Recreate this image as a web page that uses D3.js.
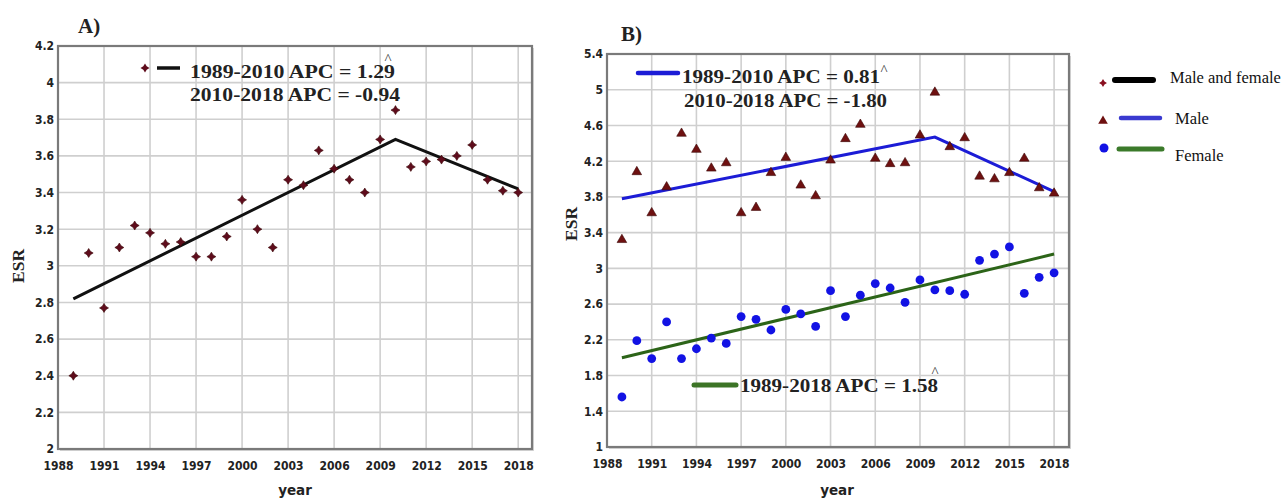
<!DOCTYPE html>
<html>
<head>
<meta charset="utf-8">
<script src="https://cdn.jsdelivr.net/npm/d3@7"></script>
<style>
  body { margin: 0; background: #fff; }
  svg { display: block; }
  .tick text { font-family: "DejaVu Sans Condensed", "DejaVu Sans", sans-serif; font-weight: bold; font-size: 12px; fill: #222; }
  .serif { font-family: "Liberation Serif", "Times New Roman", serif; font-weight: bold; fill: #222; }
</style>
</head>
<body>
<svg id="chart" width="1285" height="498"></svg>
<script>
// data
var years = [1989, 1990, 1991, 1992, 1993, 1994, 1995, 1996, 1997, 1998,
             1999, 2000, 2001, 2002, 2003, 2004, 2005, 2006, 2007, 2008,
             2009, 2010, 2011, 2012, 2013, 2014, 2015, 2016, 2017, 2018];
var bothSexes = [2.40, 3.07, 2.77, 3.10, 3.22, 3.18, 3.12, 3.13, 3.05, 3.05,
                 3.16, 3.36, 3.20, 3.10, 3.47, 3.44, 3.63, 3.53, 3.47, 3.40,
                 3.69, 3.85, 3.54, 3.57, 3.58, 3.60, 3.66, 3.47, 3.41, 3.40];
var male = [3.32, 4.08, 3.62, 3.91, 4.51, 4.33, 4.12, 4.18, 3.62, 3.68,
            4.07, 4.24, 3.93, 3.81, 4.21, 4.45, 4.61, 4.23, 4.17, 4.18,
            4.49, 4.97, 4.36, 4.46, 4.03, 4.00, 4.07, 4.23, 3.90, 3.84];
var female = [1.56, 2.19, 1.99, 2.40, 1.99, 2.10, 2.22, 2.16, 2.46, 2.43,
              2.31, 2.54, 2.49, 2.35, 2.75, 2.46, 2.70, 2.83, 2.78, 2.62,
              2.87, 2.76, 2.75, 2.71, 3.09, 3.16, 3.24, 2.72, 2.90, 2.95];
// joinpoint fits
var joinYears = [1989, 2010, 2018];
var fitBoth = [2.82, 3.69, 3.42];
var fitMale = [3.78, 4.47, 3.86];
var femaleYears = [1989, 2018];
var fitFemale = [2.00, 3.16];
// ticks
var xTicks = [1988, 1991, 1994, 1997, 2000, 2003, 2006, 2009, 2012, 2015, 2018];
var yTicksA = [2, 2.2, 2.4, 2.6, 2.8, 3, 3.2, 3.4, 3.6, 3.8, 4, 4.2];
var yTicksB = [1, 1.4, 1.8, 2.2, 2.6, 3, 3.4, 3.8, 4.2, 4.6, 5, 5.4];
var legendLabels = ['Male and female', 'Male', 'Female'];

(function(){
var svg = d3.select('#chart'),
  maroon = '#5e0c1c',
  star4 = {
    draw: function(ctx, size){
      var r = Math.sqrt(size) * 0.75, q = r * 0.38;
      ctx.moveTo(0, -r); ctx.lineTo(q, -q); ctx.lineTo(r, 0); ctx.lineTo(q, q);
      ctx.lineTo(0, r); ctx.lineTo(-q, q); ctx.lineTo(-r, 0); ctx.lineTo(-q, -q);
      ctx.closePath();
    }
  },
  panel = function(o){
    var g = svg.append('g'),
      x = d3.scaleLinear().domain(o.xDomain).range([o.left, o.right]),
      y = d3.scaleLinear().domain(o.yDomain).range([o.bottom, o.top]);
    // shadow + background
    g.append('rect').attr('x', o.left + 2).attr('y', o.top + 2)
      .attr('width', o.right - o.left).attr('height', o.bottom - o.top)
      .attr('fill', '#d6d6d6');
    g.append('rect').attr('x', o.left).attr('y', o.top)
      .attr('width', o.right - o.left).attr('height', o.bottom - o.top)
      .attr('fill', '#fff');
    // grid
    g.append('g').selectAll('line.v').data(xTicks).join('line')
      .attr('x1', d => x(d)).attr('x2', d => x(d))
      .attr('y1', o.top).attr('y2', o.bottom)
      .attr('stroke', '#cfcfcf').attr('stroke-width', 1.6);
    g.append('g').selectAll('line.h').data(o.yTicks).join('line')
      .attr('x1', o.left).attr('x2', o.right)
      .attr('y1', d => y(d)).attr('y2', d => y(d))
      .attr('stroke', '#cfcfcf').attr('stroke-width', 1.6);
    g.append('rect').attr('x', o.left).attr('y', o.top)
      .attr('width', o.right - o.left).attr('height', o.bottom - o.top)
      .attr('fill', 'none').attr('stroke', '#7a7a7a').attr('stroke-width', 2.2);
    // axes
    var ax = g.append('g').attr('transform', 'translate(0,' + o.bottom + ')')
      .call(d3.axisBottom(x).tickValues(xTicks).tickSize(0).tickPadding(12).tickFormat(d3.format('d')));
    ax.select('.domain').remove();
    var ay = g.append('g').attr('transform', 'translate(' + o.left + ',0)')
      .call(d3.axisLeft(y).tickValues(o.yTicks).tickSize(0).tickPadding(4).tickFormat(d => String(+d.toFixed(1))));
    ay.select('.domain').remove();
    // titles
    g.append('text').attr('class', 'serif').attr('x', o.labelX).attr('y', o.labelY)
      .attr('font-size', 21).text(o.label);
    g.append('text').attr('class', 'serif').attr('font-size', 17.5)
      .attr('transform', 'translate(' + o.esrX + ',' + o.esrY + ') rotate(-90)')
      .attr('text-anchor', 'middle').text('ESR');
    g.append('text').attr('x', o.yearX).attr('y', 495).attr('text-anchor', 'middle')
      .attr('font-family', '"DejaVu Sans", Verdana, sans-serif').attr('font-weight', 'bold')
      .attr('font-size', 13.5).attr('fill', '#222').text('year');
    return {g: g, x: x, y: y};
  },
  fitLine = function(p, xs, ys, color, width){
    var line = d3.line().x(d => p.x(d[0])).y(d => p.y(d[1]));
    p.g.append('path').datum(d3.zip(xs, ys)).attr('d', line)
      .attr('fill', 'none').attr('stroke', color).attr('stroke-width', width)
      .attr('stroke-linejoin', 'miter');
  },
  points = function(p, vals, kind){
    var data = d3.zip(years, vals), sel = p.g.append('g');
    if(kind === 'circle'){
      sel.selectAll('circle').data(data).join('circle')
        .attr('cx', d => p.x(d[0])).attr('cy', d => p.y(d[1])).attr('r', 4.4)
        .attr('fill', '#1212e4');
    } else {
      var sym = d3.symbol().type(kind === 'tri' ? d3.symbolTriangle : star4).size(kind === 'tri' ? 40 : 36);
      sel.selectAll('path').data(data).join('path')
        .attr('transform', d => 'translate(' + p.x(d[0]) + ',' + p.y(d[1]) + ')')
        .attr('d', sym).attr('fill', kind === 'tri' ? '#6e1010' : maroon)
        .attr('stroke', '#3a0606').attr('stroke-width', 0.6);
    }
  },
  legendText = function(g, x, y, txt, len){
    g.append('text').attr('class', 'serif').attr('x', x).attr('y', y)
      .attr('font-size', 18.5).attr('textLength', len).attr('lengthAdjust', 'spacingAndGlyphs')
      .text(txt);
  },
  caret = function(g, x, y){
    g.append('text').attr('x', x).attr('y', y).attr('text-anchor', 'middle')
      .attr('font-family', '"Liberation Serif", serif').attr('font-size', 15)
      .attr('fill', '#333').text('^');
  };

// panel A
var A = panel({xDomain: [1988, 2018.9], yDomain: [2, 4.2], yTicks: yTicksA,
  left: 58, right: 532, top: 46, bottom: 449,
  label: 'A)', labelX: 78, labelY: 33, esrX: 24, esrY: 266, yearX: 295});
fitLine(A, joinYears, fitBoth, '#111', 3);
points(A, bothSexes, 'star');
A.g.append('path').attr('transform', 'translate(145,68)')
  .attr('d', d3.symbol().type(star4).size(36)).attr('fill', maroon);
A.g.append('line').attr('x1', 157).attr('x2', 180).attr('y1', 68).attr('y2', 68)
  .attr('stroke', '#111').attr('stroke-width', 3.5);
legendText(A.g, 190, 78, '1989-2010 APC = 1.29', 205);
legendText(A.g, 190, 101, '2010-2018 APC = -0.94', 210);
caret(A.g, 388, 64);

// panel B
var B = panel({xDomain: [1988, 2019], yDomain: [1, 5.4], yTicks: yTicksB,
  left: 607, right: 1069, top: 54, bottom: 447,
  label: 'B)', labelX: 621, labelY: 41, esrX: 577, esrY: 224, yearX: 837});
fitLine(B, joinYears, fitMale, '#1c1cd6', 3);
fitLine(B, femaleYears, fitFemale, '#2c6418', 3);
points(B, male, 'tri');
points(B, female, 'circle');
B.g.append('line').attr('x1', 638).attr('x2', 678).attr('y1', 73).attr('y2', 73)
  .attr('stroke', '#1c1cd6').attr('stroke-width', 4.5).attr('stroke-linecap', 'round');
legendText(B.g, 682, 83, '1989-2010 APC = 0.81', 198);
legendText(B.g, 684, 107, '2010-2018 APC = -1.80', 203);
caret(B.g, 884, 75);
B.g.append('line').attr('x1', 694).attr('x2', 736).attr('y1', 385).attr('y2', 385)
  .attr('stroke', '#3c7426').attr('stroke-width', 5).attr('stroke-linecap', 'round');
legendText(B.g, 740, 392, '1989-2018 APC = 1.58', 198);
caret(B.g, 935, 377);

// legend on the right
var L = svg.append('g'),
  legendRows = [
    {y: 80, ty: 83, tx: 1170, x1: 1115, x2: 1153, color: '#000', w: 6, mark: 'star'},
    {y: 118, ty: 124, tx: 1175, x1: 1121, x2: 1160, color: '#3a3ad0', w: 4.5, mark: 'tri'},
    {y: 149, ty: 161, tx: 1175, x1: 1119, x2: 1162, color: '#3b7a2a', w: 5, mark: 'circle'}
  ];
legendRows.forEach(function(r, i){
  if(r.mark === 'circle'){
    L.append('circle').attr('cx', 1104).attr('cy', r.y - 1).attr('r', 4.5).attr('fill', '#1212e4');
  } else {
    L.append('path').attr('transform', 'translate(1103,' + (r.y + 3) + ')')
      .attr('d', d3.symbol().type(r.mark === 'tri' ? d3.symbolTriangle : star4).size(r.mark === 'tri' ? 40 : 28))
      .attr('fill', r.mark === 'tri' ? '#6e1010' : '#8a1020');
  }
  L.append('line').attr('x1', r.x1).attr('x2', r.x2).attr('y1', r.y).attr('y2', r.y)
    .attr('stroke', r.color).attr('stroke-width', r.w).attr('stroke-linecap', 'round');
  L.append('text').attr('x', r.tx).attr('y', r.ty)
    .attr('font-family', '"Liberation Serif", "Times New Roman", serif')
    .attr('font-size', 16.5).attr('fill', '#111').text(legendLabels[i]);
});
})();
</script>
</body>
</html>
